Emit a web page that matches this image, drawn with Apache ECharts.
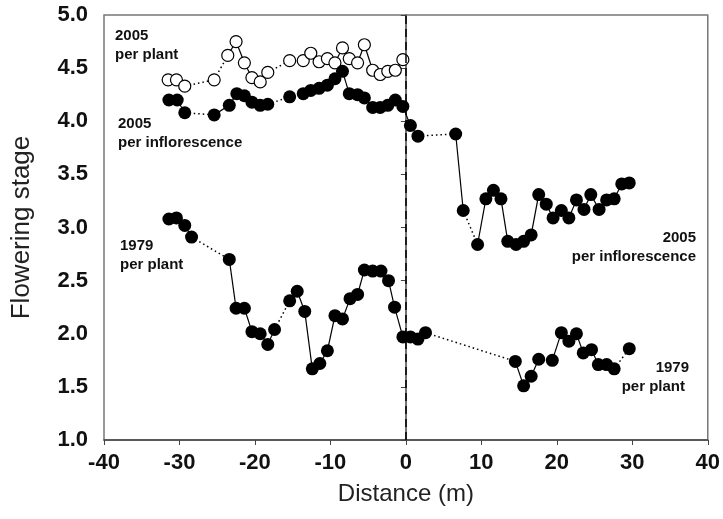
<!DOCTYPE html>
<html>
<head>
<meta charset="utf-8">
<script src="https://cdn.jsdelivr.net/npm/echarts@6.0.0/dist/echarts.min.js"></script>
<style>
  html, body { margin: 0; padding: 0; background: #ffffff; }
  #chart { width: 723px; height: 519px; }
</style>
</head>
<body>
<div id="chart"></div>
<script>
// 功能目的:
// 画出样线上各距离处的开花阶段，1979 与 2005 两年对比。
//
// 作用范围:
// 实线连相邻样点，间隔较大的两点之间用点线连。
const 字体 = '"Liberation Sans", Arial, sans-serif'

// 2005 每株 (空心圆)
const 株2005距离 = [
  -31.5, -30.4, -29.3, -25.4, -23.6, -22.5, -21.4, -20.4, -19.3, -18.3,
  -15.4, -13.6, -12.6, -11.5, -10.4, -9.4, -8.4, -7.5, -6.4, -5.5,
  -4.4, -3.4, -2.4, -1.4, -0.4,
]
const 株2005阶段 = [
  4.39, 4.39, 4.33, 4.39, 4.62, 4.75, 4.55, 4.41, 4.37, 4.46,
  4.57, 4.57, 4.64, 4.56, 4.59, 4.55, 4.69, 4.59, 4.55, 4.72,
  4.48, 4.44, 4.47, 4.48, 4.58,
]
const 株2005点线段 = [2, 3, 9, 10]

// 2005 每花序 (实心圆)
const 花序2005距离 = [
  -31.4, -30.3, -29.3, -25.4, -23.4, -22.4, -21.4, -20.4, -19.3, -18.3,
  -15.4, -13.6, -12.6, -11.5, -10.4, -9.4, -8.4, -7.5, -6.4, -5.5,
  -4.4, -3.4, -2.4, -1.4, -0.4, 0.6, 1.6, 6.6, 7.6, 9.5,
  10.6, 11.6, 12.6, 13.5, 14.6, 15.6, 16.6, 17.6, 18.6, 19.5,
  20.6, 21.6, 22.6, 23.6, 24.5, 25.6, 26.6, 27.6, 28.6, 29.6,
]
const 花序2005阶段 = [
  4.2, 4.2, 4.08, 4.06, 4.15, 4.26, 4.24, 4.18, 4.15, 4.16,
  4.23, 4.26, 4.29, 4.31, 4.34, 4.4, 4.47, 4.26, 4.25, 4.22,
  4.13, 4.13, 4.15, 4.2, 4.14, 3.96, 3.86, 3.88, 3.16, 2.84,
  3.27, 3.35, 3.27, 2.87, 2.84, 2.87, 2.93, 3.31, 3.22, 3.09,
  3.16, 3.09, 3.26, 3.17, 3.31, 3.17, 3.26, 3.27, 3.41, 3.42,
]
const 花序2005点线段 = [2, 9, 10, 26, 28]

// 1979 每株 (实心圆)
const 株1979距离 = [
  -31.4, -30.4, -29.3, -28.4, -23.4, -22.5, -21.4, -20.4, -19.3, -18.3,
  -17.4, -15.4, -14.4, -13.4, -12.4, -11.4, -10.4, -9.4, -8.4, -7.4,
  -6.4, -5.5, -4.4, -3.3, -2.3, -1.5, -0.4, 0.6, 1.6, 2.6,
  14.5, 15.6, 16.6, 17.6, 19.4, 20.6, 21.6, 22.6, 23.5, 24.6,
  25.5, 26.6, 27.6, 29.6,
]
const 株1979阶段 = [
  3.08, 3.09, 3.02, 2.91, 2.7, 2.24, 2.24, 2.02, 2.0, 1.9,
  2.04, 2.31, 2.4, 2.21, 1.67, 1.72, 1.84, 2.17, 2.14, 2.33,
  2.37, 2.6, 2.59, 2.59, 2.5, 2.25, 1.97, 1.97, 1.95, 2.01,
  1.74, 1.51, 1.6, 1.76, 1.75, 2.01, 1.93, 2.0, 1.82, 1.85,
  1.71, 1.71, 1.67, 1.86,
]
const 株1979点线段 = [3, 10, 29, 33, 42]

const x刻度 = [-40, -30, -20, -10, 0, 10, 20, 30, 40]
const y刻度 = [1.0, 1.5, 2.0, 2.5, 3.0, 3.5, 4.0, 4.5, 5.0]

function 组点(距离, 阶段) {
  return 距离.map((x, idx) => [x, 阶段[idx]])
}

function 分线段(距离, 阶段, 点线段) {
  const 实线 = []
  const 点线 = []
  for (let idx = 0; idx < 距离.length - 1; idx += 1) {
    const 段 = {
      coords: [
        [距离[idx], 阶段[idx]],
        [距离[idx + 1], 阶段[idx + 1]],
      ],
    }
    if (点线段.includes(idx)) {
      点线.push(段)
    } else {
      实线.push(段)
    }
  }
  return { 实线, 点线 }
}

const 各组 = [
  分线段(株2005距离, 株2005阶段, 株2005点线段),
  分线段(花序2005距离, 花序2005阶段, 花序2005点线段),
  分线段(株1979距离, 株1979阶段, 株1979点线段),
]
const 全部实线 = 各组.flatMap((组) => 组.实线)
const 全部点线 = 各组.flatMap((组) => 组.点线)

function 注释(文本, x, y, 对齐) {
  return {
    type: 'text',
    x,
    y,
    style: {
      text: 文本,
      fill: '#111',
      font: `bold 15px ${字体}`,
      align: 对齐,
      lineHeight: 19,
    },
  }
}

const 图表 = echarts.init(document.getElementById('chart'), null, {
  renderer: 'canvas',
})

图表.setOption({
  animation: false,
  backgroundColor: '#ffffff',
  textStyle: { fontFamily: 字体 },
  grid: {
    left: 104,
    right: 13,
    top: 15,
    bottom: 79,
    show: true,
    borderColor: '#777',
    borderWidth: 1.5,
  },
  xAxis: {
    type: 'value',
    min: x刻度[0],
    max: x刻度[x刻度.length - 1],
    interval: 10,
    name: 'Distance (m)',
    nameLocation: 'middle',
    nameGap: 42,
    nameTextStyle: { color: '#222', fontSize: 24, fontFamily: 字体 },
    axisLine: { lineStyle: { color: '#444', width: 1.5 } },
    axisTick: { inside: false, length: 5, lineStyle: { color: '#444' } },
    axisLabel: {
      color: '#111',
      fontSize: 22,
      fontWeight: 'bold',
      margin: 12,
      fontFamily: 字体,
    },
    splitLine: { show: false },
  },
  yAxis: {
    type: 'value',
    min: y刻度[0],
    max: y刻度[y刻度.length - 1],
    interval: 0.5,
    name: 'Flowering stage',
    nameLocation: 'middle',
    nameGap: 69,
    nameTextStyle: { color: '#222', fontSize: 26, fontFamily: 字体 },
    axisLine: { show: true, lineStyle: { color: '#444', width: 1.5 } },
    axisTick: { show: true, inside: false, length: 5, lineStyle: { color: '#444' } },
    axisLabel: {
      color: '#111',
      fontSize: 22,
      fontWeight: 'bold',
      margin: 16,
      fontFamily: 字体,
      formatter: (值) => 值.toFixed(1),
    },
    splitLine: { show: false },
  },
  series: [
    {
      name: '实线',
      type: 'lines',
      coordinateSystem: 'cartesian2d',
      silent: true,
      z: 2,
      lineStyle: { color: '#000', width: 1.2, opacity: 1 },
      data: 全部实线,
    },
    {
      name: '点线',
      type: 'lines',
      coordinateSystem: 'cartesian2d',
      silent: true,
      z: 2,
      lineStyle: { color: '#000', width: 1.5, type: [1.5, 3], opacity: 1 },
      data: 全部点线,
    },
    {
      name: '2005 per plant',
      type: 'scatter',
      z: 4,
      symbol: 'circle',
      symbolSize: 12,
      itemStyle: { color: '#fff', borderColor: '#000', borderWidth: 1.2, opacity: 1 },
      data: 组点(株2005距离, 株2005阶段),
      markLine: {
        silent: true,
        symbol: 'none',
        label: { show: false },
        lineStyle: { color: '#000', width: 1.5, type: [8, 5] },
        data: [{ xAxis: 0 }],
      },
    },
    {
      name: '2005 per inflorescence',
      type: 'scatter',
      z: 4,
      symbol: 'circle',
      symbolSize: 13,
      itemStyle: { color: '#000', opacity: 1 },
      data: 组点(花序2005距离, 花序2005阶段),
    },
    {
      name: '1979 per plant',
      type: 'scatter',
      z: 4,
      symbol: 'circle',
      symbolSize: 13,
      itemStyle: { color: '#000', opacity: 1 },
      data: 组点(株1979距离, 株1979阶段),
    },
  ],
  graphic: [
    注释('2005\nper plant', 115, 26, 'left'),
    注释('2005\nper inflorescence', 118, 114, 'left'),
    注释('1979\nper plant', 120, 236, 'left'),
    注释('2005', 696, 228, 'right'),
    注释('per inflorescence', 696, 247, 'right'),
    注释('1979', 689, 358, 'right'),
    注释('per plant', 685, 377, 'right'),
  ],
})
</script>
</body>
</html>
